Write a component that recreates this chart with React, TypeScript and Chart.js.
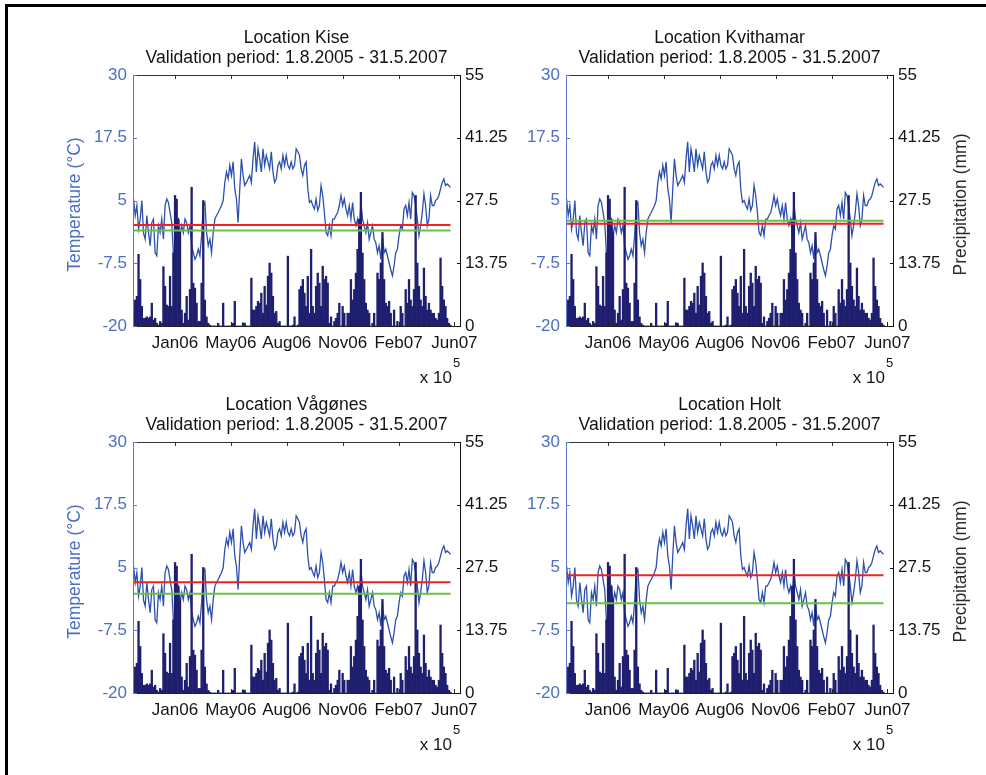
import React, { useEffect, useRef } from 'react';
import { Chart, registerables } from 'chart.js';

Chart.register(...registerables);

// ---------- data ----------
const firstDay = 732626; // MATLAB datenum of first sample shown
const lastDay = 733193; // 31.5.2007
const xMin = 732625;
const xMax = 733210;

const temperature = [
  5.3, 2, 4, -0.7, 1.3, 5, -1.5, -2.7, 2, -1.4, -4, 0.6, 1.3, -5.4, -6, 0, -1.4, 1.3, -2.7, 4,
  5.3, 4.6, 2.6, 0.6, -5.4, -8, 0.6, 1.3, -2, 0, -1.4, 1.3, 0.6, -1.4, 0, -4, -5.4, -6.7, -6, -4.7,
  -6, -2, 4, 4.6, -1.4, -4, -2.7, -5.4, -1.4, 1.3, 2, 2.6, 3.3, 4, 5, 8.6, 10.7, 9.3, 12, 10,
  12.7, 7.3, 5.3, 0.6, 7.3, 13.3, 10, 8, 8.6, 9.3, 10, 8.6, 13.3, 16.7, 10.7, 15.3, 13.3, 10.7, 15.3, 12,
  14, 12.7, 11.3, 14.7, 10.7, 8.6, 9.3, 12, 12.7, 11.3, 14, 12, 14, 12, 11.3, 12.7, 11.3, 12, 15.3, 14.7,
  14, 11.3, 10, 12, 12.7, 7.3, 4.6, 5, 4, 3.3, 5.3, 3, 4, 8, 6, 2.6, -1.4, -2, 0, -2,
  1.3, 1.3, 2, 2.6, 4, 6, 4, 5.3, 3.3, 2, 4, 1.3, 4.6, 1.3, 0, 1.3, -1.4, 4.6, 1.3, 0,
  -1.4, 0.6, -2.7, -1.4, 0, -2.7, -3.4, -5.4, -4, -6.7, -2, -5.4, -4.7, -6, -7.4, -8.8, -10, -8, -5.4, -4.7,
  -2, 0, -0.7, 3.3, 4, 2, 4.6, 1.3, 6.6, 6, 4, 1.3, -2, 0, 2.6, 6.3, 4, 0, 1.3, 6,
  4, 4, 5, 5.3, 6, 7.3, 8.6, 9.3, 8, 8.3, 8, 7.6,
];

const precipitation = [
  3.5, 5.7, 6.5, 15.7, 10.2, 4.3, 1.7, 1.7, 2, 1.7, 2, 5, 1.3, 1.7, 0.6, 0.2, 1, 0.6, 13, 8.7,
  4.6, 4.3, 10.9, 4.3, 16, 28.6, 27.8, 23.4, 20.5, 3.5, 0.6, 2.8, 6.5, 1.3, 8, 30.4, 9.4, 8.3, 5, 1,
  1, 9.4, 27.5, 5.7, 2, 0.6, 0.2, 0, 0, 0, 0, 0.6, 0, 0, 5, 0, 0, 0, 0, 0,
  0.6, 5.4, 0, 0, 0, 0, 0.7, 0.6, 0, 0, 0, 10.5, 3.5, 3.5, 4.3, 5.4, 5, 7.2, 2.8, 8.7,
  4.6, 10.9, 13.8, 11.6, 6.5, 2.8, 3.2, 0.6, 1, 0, 0, 0, 0, 15.3, 0, 0, 0.2, 2, 0, 0.2,
  8, 8.7, 10.2, 7.2, 4.3, 10.9, 2.8, 16.8, 4.3, 2.8, 8.7, 11.6, 9.4, 4.3, 13.1, 10.2, 10.9, 9.4, 0.6, 2,
  0, 1, 1.7, 2.8, 5, 0, 4.3, 2.8, 0, 2.8, 2.8, 10.2, 5.7, 8, 11.6, 16.8, 23.4, 29.3, 16, 10.2,
  5, 3.5, 2.8, 0, 0.6, 2.8, 0, 11.6, 10.2, 13.8, 20.5, 10.2, 5, 4.3, 5.4, 2.8, 0, 3.5, 0, 1,
  0, 4.3, 2.8, 0, 8, 5, 10.2, 5.7, 4.3, 8, 28.6, 13.8, 8.7, 5.7, 4.3, 12.7, 6.5, 3.5, 5, 3.5,
  2.8, 2.8, 1.7, 1.3, 2.8, 14.9, 8.7, 5.7, 4.3, 1.7, 0.6, 0.2,
];

const xTickDays = [732700, 732800, 732900, 733000, 733100, 733200];
const xTickLabels = ['Jan06', 'May06', 'Aug06', 'Nov06', 'Feb07', 'Jun07'];
const tempTicks = [-20, -7.5, 5, 17.5, 30];
const precipTicks = [0, 13.75, 27.5, 41.25, 55];

const locations = ['Kise', 'Kvithamar', 'Vågønes', 'Holt'];
const redLevels = [0.1, 0.35, 2.05, 3.45];
const greenLevels = [-1.0, 0.95, -0.22, -2.13];
const periodLabel = 'Validation period: 1.8.2005 - 31.5.2007';
const tempTitle = 'Temperature (°C)';
const precipTitle = 'Precipitation (mm)';
const exponentBase = 'x 10';
const exponent = '5';

// ---------- layout / style ----------
const W = 986;
const H = 775;
const FONT = '"Liberation Sans", Arial, Helvetica, sans-serif';
const BLUE_TEXT = '#4c6ec4';
const LINE_BLUE = '#2c50ad';
const BAR_NAVY = '#1f1f70';
const RED = '#ee2222';
const GREEN = '#6cbf46';
const PLOT = { left: 133, right: 460, top: 75, bottom: 326, dx: 433, dy: 367 };

Chart.defaults.font.family = FONT;
Chart.defaults.font.size = 17;

const days = temperature.map((_, i) => firstDay + (i * (lastDay - firstDay)) / (temperature.length - 1));

const decorPlugin = {
  id: 'decor',
  afterDatasetsDraw(chart: any) {
    const { left, right, top, bottom } = chart.chartArea;
    const ctx = chart.ctx;
    const seg = (x1: number, y1: number, x2: number, y2: number, c: string) => {
      ctx.strokeStyle = c;
      ctx.beginPath();
      ctx.moveTo(x1, y1);
      ctx.lineTo(x2, y2);
      ctx.stroke();
    };
    ctx.save();
    ctx.lineWidth = 1;
    seg(left, top + 0.5, right + 1, top + 0.5, '#333');
    seg(left, bottom + 0.5, right + 1, bottom + 0.5, '#222');
    seg(right + 0.5, top, right + 0.5, bottom + 1, '#111');
    seg(left + 0.5, top, left + 0.5, bottom + 1, '#5b7bc9');
    const xs = chart.scales.x;
    xTickDays.forEach((v) => {
      const px = Math.round(xs.getPixelForValue(v)) + 0.5;
      seg(px, bottom, px, bottom - 4, '#222');
      seg(px, top, px, top + 4, '#333');
    });
    const ys = chart.scales.y;
    tempTicks.forEach((v) => {
      const py = Math.round(ys.getPixelForValue(v)) + 0.5;
      seg(left, py, left + 4, py, '#5b7bc9');
    });
    const y1 = chart.scales.y1;
    precipTicks.forEach((v) => {
      const py = Math.round(y1.getPixelForValue(v)) + 0.5;
      seg(right + 1, py, right - 3, py, '#111');
    });
    ctx.restore();
  },
  afterDraw(chart: any, _a: any, opts: any) {
    const { left, right, top, bottom } = chart.chartArea;
    const ctx = chart.ctx;
    ctx.save();
    ctx.fillStyle = '#141414';
    ctx.font = `17.6px ${FONT}`;
    ctx.textAlign = 'center';
    ctx.textBaseline = 'alphabetic';
    const cx = (left + right) / 2;
    ctx.fillText(`Location ${opts.name}`, cx, top - 32);
    ctx.fillText(periodLabel, cx, top - 12);
    ctx.font = `17px ${FONT}`;
    ctx.textAlign = 'right';
    ctx.fillText(exponentBase, right - 8, bottom + 57);
    ctx.font = `13px ${FONT}`;
    ctx.textAlign = 'left';
    ctx.fillText(exponent, right - 7, bottom + 41);
    ctx.font = `17.5px ${FONT}`;
    ctx.textAlign = 'center';
    ctx.textBaseline = 'middle';
    const cy = (top + bottom) / 2 + 4;
    if (opts.leftTitle) {
      ctx.save();
      ctx.translate(left - 58, cy);
      ctx.rotate(-Math.PI / 2);
      ctx.fillStyle = BLUE_TEXT;
      ctx.fillText(tempTitle, 0, 0);
      ctx.restore();
    }
    if (opts.rightTitle) {
      ctx.save();
      ctx.translate(right + 68, cy);
      ctx.rotate(-Math.PI / 2);
      ctx.fillStyle = '#2a2a2a';
      ctx.fillText(precipTitle, 0, 0);
      ctx.restore();
    }
    ctx.restore();
  },
};

function Panel({ index }: { index: number }) {
  const ref = useRef<HTMLCanvasElement | null>(null);
  useEffect(() => {
    const col = index % 2;
    const row = Math.floor(index / 2);
    const L = PLOT.left + col * PLOT.dx;
    const R = PLOT.right + col * PLOT.dx;
    const T = PLOT.top + row * PLOT.dy;
    const B = PLOT.bottom + row * PLOT.dy;
    const yW = 60;
    const xH = 40;
    const chart = new Chart(ref.current as HTMLCanvasElement, {
      type: 'line',
      data: {
        datasets: [
          {
            type: 'line',
            label: 'red',
            data: [
              { x: firstDay, y: redLevels[index] },
              { x: lastDay, y: redLevels[index] },
            ],
            borderColor: RED,
            borderWidth: 2,
            pointRadius: 0,
            yAxisID: 'y',
            order: 0,
          },
          {
            type: 'line',
            label: 'green',
            data: [
              { x: firstDay, y: greenLevels[index] },
              { x: lastDay, y: greenLevels[index] },
            ],
            borderColor: GREEN,
            borderWidth: 2,
            pointRadius: 0,
            yAxisID: 'y',
            order: 0,
          },
          {
            type: 'bar',
            label: 'precipitation',
            data: days.map((d, i) => ({ x: d, y: precipitation[i] })),
            backgroundColor: BAR_NAVY,
            borderWidth: 0,
            barPercentage: 1,
            categoryPercentage: 1,
            yAxisID: 'y1',
            order: 1,
          },
          {
            type: 'line',
            label: 'temperature',
            data: days.map((d, i) => ({ x: d, y: temperature[i] })),
            borderColor: LINE_BLUE,
            borderWidth: 1.3,
            pointRadius: 0,
            tension: 0,
            yAxisID: 'y',
            order: 2,
          },
        ],
      } as any,
      options: {
        responsive: false,
        animation: false,
        devicePixelRatio: 1,
        layout: { padding: { left: L - yW, right: W - R - yW, top: T, bottom: H - B - xH } },
        plugins: {
          legend: { display: false },
          tooltip: { enabled: false },
          decor: { name: locations[index], leftTitle: col === 0, rightTitle: col === 1 },
        } as any,
        scales: {
          x: {
            type: 'linear',
            min: xMin,
            max: xMax,
            offset: false,
            grid: { display: false, drawTicks: false },
            border: { display: false },
            afterBuildTicks: (s: any) => {
              s.ticks = xTickDays.map((v) => ({ value: v }));
            },
            afterFit: (s: any) => {
              s.height = xH;
            },
            ticks: {
              autoSkip: false,
              maxRotation: 0,
              minRotation: 0,
              padding: 7,
              color: '#141414',
              font: { size: 17 },
              callback: (v: any) => {
                const k = xTickDays.indexOf(Number(v));
                return k >= 0 ? xTickLabels[k] : '';
              },
            },
          },
          y: {
            position: 'left',
            min: -20,
            max: 30,
            grid: { display: false, drawTicks: false },
            border: { display: false },
            afterBuildTicks: (s: any) => {
              s.ticks = tempTicks.map((v) => ({ value: v }));
            },
            afterFit: (s: any) => {
              s.width = yW;
            },
            ticks: { color: BLUE_TEXT, padding: 6, font: { size: 17 }, callback: (v: any) => String(v) },
          },
          y1: {
            position: 'right',
            min: 0,
            max: 55,
            grid: { display: false, drawTicks: false },
            border: { display: false },
            afterBuildTicks: (s: any) => {
              s.ticks = precipTicks.map((v) => ({ value: v }));
            },
            afterFit: (s: any) => {
              s.width = yW;
            },
            ticks: { color: '#141414', padding: 5, font: { size: 17 }, callback: (v: any) => String(v) },
          },
        },
      } as any,
      plugins: [decorPlugin as any],
    });
    return () => chart.destroy();
  }, [index]);
  return (
    <canvas
      ref={ref}
      width={W}
      height={H}
      style={{ position: 'absolute', left: 0, top: 0, width: W, height: H }}
    />
  );
}

export default function App() {
  return (
    <div
      style={{
        position: 'fixed',
        left: 0,
        top: 0,
        width: W,
        height: H,
        background: '#fff',
        overflow: 'hidden',
      }}
    >
      <div
        style={{
          position: 'absolute',
          left: 5,
          top: 4,
          width: W + 20,
          height: H + 20,
          borderLeft: '3px solid #000',
          borderTop: '3px solid #000',
        }}
      />
      {[0, 1, 2, 3].map((i) => (
        <Panel key={i} index={i} />
      ))}
    </div>
  );
}
